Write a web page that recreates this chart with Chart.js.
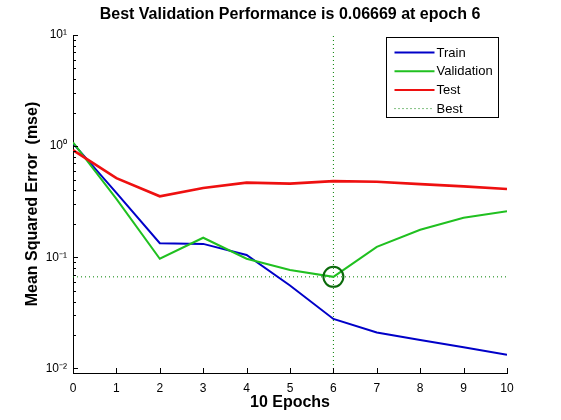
<!DOCTYPE html>
<html>
<head>
<meta charset="utf-8">
<script src="https://cdn.jsdelivr.net/npm/chart.js@4"></script>
<style>
html,body{margin:0;padding:0;background:#fff;}
#c{display:block;}
</style>
</head>
<body>
<canvas id="c" width="561" height="420"></canvas>
<script>
// ---- data ----
const epochs = [0, 1, 2, 3, 4, 5, 6, 7, 8, 9, 10];
const trainPerf = [1.06, 0.38, 0.134, 0.132, 0.105, 0.0557, 0.0279, 0.0211, 0.018, 0.0155, 0.0133];
const validationPerf = [1.08, 0.336, 0.097, 0.15, 0.097, 0.077, 0.06669, 0.124, 0.177, 0.227, 0.259];
const testPerf = [0.92, 0.516, 0.354, 0.42, 0.47, 0.46, 0.485, 0.478, 0.455, 0.435, 0.412];
const bestEpoch = 6;
const bestPerf = 0.06669;
const xTickValues = [0, 1, 2, 3, 4, 5, 6, 7, 8, 9, 10];
const yTickValues = [0.01, 0.1, 1, 10];
const yTickLabels = ['10\u207B\u00B2', '10\u207B\u00B9', '10\u2070', '10\u00B9'];
const yMin = 0.0091, yMax = 10;
const xMin = 0, xMax = 10;
const titleText = 'Best Validation Performance is 0.06669 at epoch 6';
const xTitle = '10 Epochs';
const yTitle = 'Mean Squared Error  (mse)';

const FONT = "'Liberation Sans', Arial, Helvetica, sans-serif";
const pts = arr => epochs.map((e, i) => ({x: e, y: arr[i]}));

// inward ticks (MATLAB style)
const inwardTicks = {
  id: 'inwardTicks',
  afterDraw(chart) {
    const ctx = chart.ctx, xs = chart.scales.x, ys = chart.scales.y;
    const a = chart.chartArea;
    ctx.save();
    ctx.strokeStyle = '#000';
    ctx.lineWidth = 1;
    ctx.beginPath();
    xTickValues.forEach(v => {
      const px = Math.round(xs.getPixelForValue(v)) + 0.5;
      ctx.moveTo(px, a.bottom);
      ctx.lineTo(px, a.bottom - 5);
    });
    for (let d = -3; d <= 1; d++) {
      for (let m = 1; m <= 9; m++) {
        const v = m * Math.pow(10, d);
        if (v < yMin || v > yMax * 1.0001) continue;
        const py = Math.round(ys.getPixelForValue(v)) + 0.5;
        ctx.moveTo(a.left, py);
        ctx.lineTo(a.left + (m === 1 ? 5 : 3), py);
      }
    }
    ctx.stroke();
    ctx.restore();
  }
};

// MATLAB-style boxed legend
const boxLegend = {
  id: 'boxLegend',
  afterDraw(chart) {
    const ctx = chart.ctx;
    const items = chart.data.datasets.filter(d => d.inLegend);
    const left = 386.5, top = 37.5, w = 112, h = 80;
    ctx.save();
    ctx.fillStyle = '#fff';
    ctx.fillRect(left, top, w, h);
    ctx.strokeStyle = '#000';
    ctx.lineWidth = 1;
    ctx.strokeRect(left, top, w, h);
    ctx.font = '13px ' + FONT;
    ctx.textBaseline = 'middle';
    ctx.textAlign = 'left';
    items.forEach((d, i) => {
      const y = top + 15 + i * 18.7;
      ctx.beginPath();
      ctx.strokeStyle = d.borderColor;
      ctx.lineWidth = d.legendWidth || d.borderWidth;
      ctx.setLineDash(d.borderDash || []);
      ctx.moveTo(left + 8, y);
      ctx.lineTo(left + 48, y);
      ctx.stroke();
      ctx.setLineDash([]);
      ctx.fillStyle = '#000';
      ctx.fillText(d.label, left + 50, y + 0.5);
    });
    ctx.restore();
  }
};

new Chart(document.getElementById('c'), {
  type: 'line',
  data: {
    datasets: [
      {label: 'Train', data: pts(trainPerf), borderColor: '#0000c8', borderWidth: 2, pointRadius: 0, inLegend: true, order: 3},
      {label: 'Validation', data: pts(validationPerf), borderColor: '#20c020', borderWidth: 2, pointRadius: 0, inLegend: true, order: 2},
      {label: 'Test', data: pts(testPerf), borderColor: '#ee1010', borderWidth: 2.6, legendWidth: 2, pointRadius: 0, inLegend: true, order: 1},
      {label: 'Best', data: [{x: xMin, y: bestPerf}, {x: xMax, y: bestPerf}], borderColor: '#008000', borderWidth: 1, borderDash: [1, 3], pointRadius: 0, inLegend: true, order: 5},
      {label: 'BestV', data: [{x: bestEpoch, y: yMin}, {x: bestEpoch, y: yMax}], borderColor: '#008000', borderWidth: 1, borderDash: [1, 3], pointRadius: 0, order: 5},
      {label: 'BestPoint', data: [{x: bestEpoch, y: bestPerf}], showLine: false, pointRadius: 10, pointBorderWidth: 2, pointBorderColor: '#0a6a0a', pointBackgroundColor: 'rgba(0,0,0,0)', borderColor: '#0a6a0a', order: 0}
    ]
  },
  options: {
    responsive: false,
    animation: false,
    devicePixelRatio: 1,
    layout: {padding: {left: 0, right: 54, top: 0, bottom: 0}},
    plugins: {
      legend: {display: false},
      tooltip: {enabled: false},
      title: {
        display: true, fullSize: false, text: titleText, color: '#000',
        font: {family: FONT, size: 16, weight: 'bold'},
        padding: {top: 5.4, bottom: 10.4}
      }
    },
    scales: {
      x: {
        type: 'linear', min: xMin, max: xMax,
        afterBuildTicks: s => { s.ticks = xTickValues.map(v => ({value: v})); },
        afterFit: s => { s.height = 47; },
        grid: {drawOnChartArea: false, drawTicks: false},
        border: {display: true, color: '#000', width: 1},
        ticks: {color: '#000', font: {family: FONT, size: 12}, padding: 8, maxRotation: 0, autoSkip: false,
          callback: v => String(v)},
        title: {display: true, text: xTitle, color: '#000', font: {family: FONT, size: 16, weight: 'bold'}, padding: {top: 0, bottom: 7.4}}
      },
      y: {
        type: 'logarithmic', min: yMin, max: yMax,
        afterBuildTicks: s => { s.ticks = yTickValues.map(v => ({value: v})); },
        afterFit: s => { s.width = 73; },
        grid: {drawOnChartArea: false, drawTicks: false},
        border: {display: true, color: '#000', width: 1},
        ticks: {color: '#000', font: {family: FONT, size: 12}, padding: 6, autoSkip: false,
          callback: (v) => { const i = yTickValues.indexOf(v); return i >= 0 ? yTickLabels[i] : ''; }},
        title: {display: true, text: yTitle, color: '#000', font: {family: FONT, size: 16, weight: 'bold'}, padding: {top: 23, bottom: 0}}
      }
    }
  },
  plugins: [inwardTicks, boxLegend]
});
</script>
</body>
</html>
